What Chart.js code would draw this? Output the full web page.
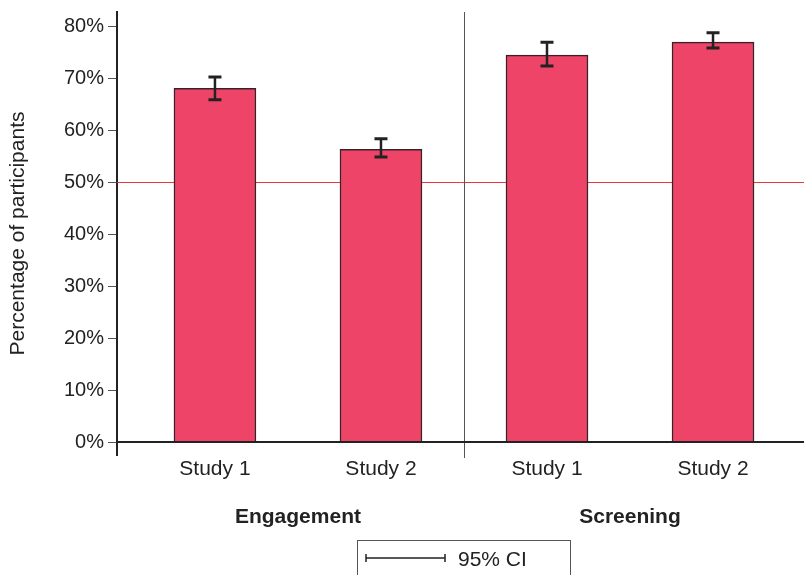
<!DOCTYPE html>
<html>
<head>
<meta charset="utf-8">
<script src="https://cdn.jsdelivr.net/npm/chart.js@4/dist/chart.umd.min.js"></script>
<style>
  html, body { margin: 0; padding: 0; background: #fff; }
  #wrap { width: 804px; height: 575px; }
</style>
</head>
<body>
<div id="wrap"><canvas id="c" width="804" height="575"></canvas></div>
<script>
// Study labels, in plotting order, and the two groups they belong to
const studies = ['Study 1', 'Study 2', 'Study 1', 'Study 2'];
const groups = ['Engagement', 'Screening'];
const groupCentres = [0.5, 2.5];
// Percentage of participants and 95% confidence interval bounds
const percentages = [68.0, 56.3, 74.4, 76.9];
const ciLower = [65.8, 54.8, 72.3, 75.8];
const ciUpper = [70.2, 58.3, 76.9, 78.7];
// Y-axis ticks and the chance-level reference line
const yTicks = [0, 10, 20, 30, 40, 50, 60, 70, 80];
const chanceLevel = 50;
const groupDivider = 1.5;

const FONT = "'Liberation Sans', Arial, Helvetica, sans-serif";
const INK = '#222222';

const overlay = {
  id: 'overlay',
  beforeDatasetsDraw(chart) {
    const { ctx, chartArea: a, scales: { x, y } } = chart;
    ctx.save();
    // chance reference line
    const yc = Math.round(y.getPixelForValue(chanceLevel)) + 0.5;
    ctx.strokeStyle = '#e8383d';
    ctx.lineWidth = 1;
    ctx.beginPath();
    ctx.moveTo(a.left, yc);
    ctx.lineTo(a.right, yc);
    ctx.stroke();
    // divider between the two groups
    const xd = Math.round(x.getPixelForValue(groupDivider)) + 0.5;
    ctx.strokeStyle = '#555';
    ctx.beginPath();
    ctx.moveTo(xd, a.top);
    ctx.lineTo(xd, a.bottom + 3);
    ctx.stroke();
    ctx.restore();
  },
  afterDatasetsDraw(chart) {
    const { ctx, chartArea: a, scales: { x, y } } = chart;
    ctx.save();
    // baseline at 0%
    const y0 = y.getPixelForValue(0);
    ctx.strokeStyle = INK;
    ctx.lineWidth = 2;
    ctx.beginPath();
    ctx.moveTo(a.left, y0);
    ctx.lineTo(a.right, y0);
    ctx.stroke();
    // confidence interval whiskers
    ctx.strokeStyle = INK;
    percentages.forEach((_, i) => {
      const cx = x.getPixelForValue(i);
      const yl = y.getPixelForValue(ciLower[i]);
      const yh = y.getPixelForValue(ciUpper[i]);
      ctx.lineWidth = 2.5;
      ctx.beginPath();
      ctx.moveTo(cx, yl); ctx.lineTo(cx, yh);
      ctx.stroke();
      ctx.lineWidth = 3;
      ctx.beginPath();
      ctx.moveTo(cx - 6.5, yl); ctx.lineTo(cx + 6.5, yl);
      ctx.moveTo(cx - 6.5, yh); ctx.lineTo(cx + 6.5, yh);
      ctx.stroke();
    });
    ctx.restore();
  },
  afterDraw(chart) {
    const { ctx } = chart;
    ctx.save();
    // key explaining the whisker
    ctx.strokeStyle = '#555';
    ctx.lineWidth = 1;
    ctx.strokeRect(357.5, 540.5, 213, 40);
    ctx.strokeStyle = INK;
    ctx.lineWidth = 1.5;
    ctx.beginPath();
    ctx.moveTo(366, 558); ctx.lineTo(445, 558);
    ctx.moveTo(366, 554); ctx.lineTo(366, 562);
    ctx.moveTo(445, 554); ctx.lineTo(445, 562);
    ctx.stroke();
    ctx.fillStyle = INK;
    ctx.font = '21px ' + FONT;
    ctx.textAlign = 'left';
    ctx.textBaseline = 'middle';
    ctx.fillText('95% CI', 458, 560);
    ctx.restore();
  }
};

const X_MIN = -0.59, X_MAX = 3.548;
const fixRange = s => { s.min = X_MIN; s.max = X_MAX; };

new Chart(document.getElementById('c'), {
  type: 'bar',
  data: {
    datasets: [{
      data: percentages.map((v, i) => ({ x: i, y: v })),
      backgroundColor: '#ee4468',
      borderColor: '#3a2029',
      borderWidth: 1.5,
      borderSkipped: 'start',
      barThickness: 82
    }]
  },
  plugins: [overlay],
  options: {
    responsive: false,
    animation: false,
    layout: { padding: { left: 0, right: 0, top: 12, bottom: 0 } },
    plugins: { legend: { display: false }, tooltip: { enabled: false } },
    scales: {
      x: {
        type: 'linear', position: 'bottom', bounds: 'data', offset: false,
        min: X_MIN, max: X_MAX,
        grid: { display: false }, border: { display: false },
        ticks: {
          includeBounds: false, padding: -6,
          color: INK, font: { family: FONT, size: 21 },
          callback: v => studies[v]
        },
        afterDataLimits: fixRange,
        afterBuildTicks: s => { s.ticks = studies.map((_, i) => ({ value: i })); fixRange(s); },
        afterFit: s => { s.height = 35; s.paddingLeft = 0; s.paddingRight = 0; }
      },
      x2: {
        type: 'linear', position: 'bottom', bounds: 'data', offset: false,
        min: X_MIN, max: X_MAX,
        grid: { display: false }, border: { display: false },
        ticks: {
          includeBounds: false, padding: 7,
          color: INK, font: { family: FONT, size: 21, weight: 'bold' },
          callback: v => groups[groupCentres.indexOf(v)]
        },
        afterDataLimits: fixRange,
        afterBuildTicks: s => { s.ticks = groupCentres.map(v => ({ value: v })); fixRange(s); },
        afterFit: s => { s.height = 85; s.paddingLeft = 0; s.paddingRight = 0; }
      },
      y: {
        min: -2.5, max: 82.7,
        border: { display: true, color: INK, width: 2 },
        grid: { drawOnChartArea: false, drawTicks: true, tickLength: 9, color: '#555', lineWidth: 1 },
        ticks: {
          padding: 4, color: INK, font: { family: FONT, size: 20 },
          callback: v => v + '%'
        },
        afterBuildTicks: s => { s.ticks = yTicks.map(v => ({ value: v })); },
        afterFit: s => { s.width = 117; s.paddingTop = 0; s.paddingBottom = 0; },
        title: {
          display: true, text: 'Percentage of participants',
          color: INK, font: { family: FONT, size: 21 },
          padding: { top: 6, bottom: 0 }
        }
      }
    }
  }
});
</script>
</body>
</html>
